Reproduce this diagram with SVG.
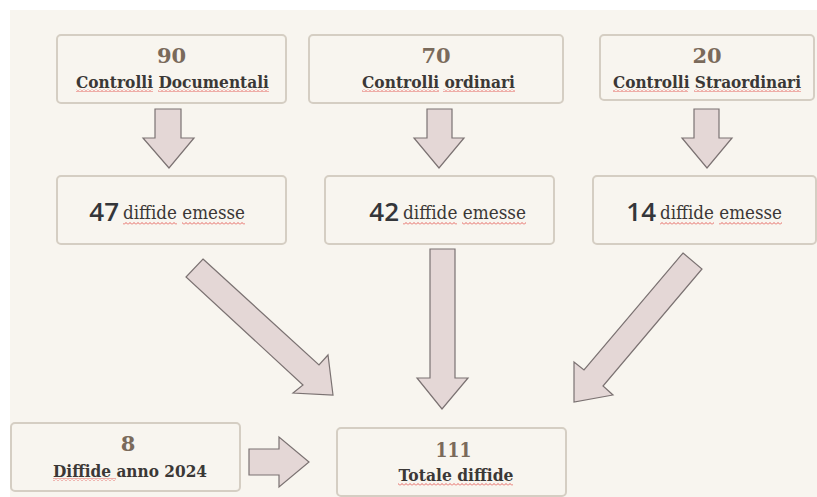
<svg xmlns="http://www.w3.org/2000/svg" width="817" height="497" viewBox="0 0 817 497">
<defs>
<pattern id="sq" patternUnits="userSpaceOnUse" width="4" height="3"><path d="M0 2.5 L2 0.5 L4 2.5" fill="none" stroke="#e0403c" stroke-width="0.8"/></pattern>
</defs>
<style>
.box{fill:#f8f5ef;stroke:#d5cec3;stroke-width:2}
.arr{fill:#e4d7d6;stroke:#7b7272;stroke-width:1.2}
.num{font-family:"DejaVu Serif",serif;font-weight:bold;font-size:21px;fill:#7a6a5b;text-anchor:middle}
.lbl{font-family:"DejaVu Serif",serif;font-weight:bold;font-size:17px;fill:#3b3836;text-anchor:middle}
.big{font-family:"Open Sans",sans-serif;font-weight:600;font-size:26px;fill:#34363a;text-anchor:end}
.em{font-family:"DejaVu Serif",serif;font-size:18px;fill:#3b3836}
.sq{fill:url(#sq)}
</style>
<rect width="817" height="497" fill="#ffffff"/>
<rect x="10" y="10" width="807" height="487" fill="#f8f5ef"/>

<g id="connectors">
<polygon class="arr" points="155,109 181,109 181,138 194,138 169,168 143,138 155,138"/>
<polygon class="arr" points="427,109 452,109 452,138 464,138 439,168 414,138 427,138"/>
<polygon class="arr" points="694,109 719,109 719,138 732,138 707,168 682,138 694,138"/>
<polygon class="arr" points="430,249 455,249 455,378 468,378 442,409 417,378 430,378"/>
<polygon class="arr" points="203,259 319,365 328,355 333,395 293,393 303,385 186,277"/>
<polygon class="arr" points="683,253 702,269 603,386 613,395 574,402 574,362 584,370"/>
<polygon class="arr" points="249,449 279,449 279,437 309,462 279,487 279,475 249,475"/>
</g>

<g id="n-documentali">
<rect class="box" x="57" y="35" width="229" height="68" rx="4"/>
<text class="num" x="171.5" y="63">90</text>
<text class="lbl" x="172.5" y="88" textLength="193" lengthAdjust="spacingAndGlyphs">Controlli Documentali</text>
<rect class="sq" x="76" y="89" width="77" height="3"/><rect class="sq" x="158" y="89" width="111" height="3"/>
</g>
<g id="n-ordinari">
<rect class="box" x="309" y="35" width="254" height="68" rx="4"/>
<text class="num" x="436" y="63">70</text>
<text class="lbl" x="438.5" y="88" textLength="153" lengthAdjust="spacingAndGlyphs">Controlli ordinari</text>
<rect class="sq" x="362" y="89" width="77" height="3"/><rect class="sq" x="443" y="89" width="72" height="3"/>
</g>
<g id="n-straordinari">
<rect class="box" x="600" y="35" width="214" height="65" rx="4"/>
<text class="num" x="707" y="63">20</text>
<text class="lbl" x="707" y="88" style="font-size:16px" textLength="188" lengthAdjust="spacingAndGlyphs">Controlli Straordinari</text>
<rect class="sq" x="613" y="89" width="75" height="3"/><rect class="sq" x="694" y="89" width="107" height="3"/>
</g>

<g id="n-diffide47">
<rect class="box" x="57" y="176" width="229" height="68" rx="4"/>
<text class="big" x="119" y="221">47</text>
<text class="em" x="123" y="219" textLength="122" lengthAdjust="spacingAndGlyphs">diffide emesse</text>
<rect class="sq" x="123" y="222" width="54" height="3"/><rect class="sq" x="182" y="222" width="63" height="3"/>
</g>
<g id="n-diffide42">
<rect class="box" x="325" y="176" width="229" height="68" rx="4"/>
<text class="big" x="399" y="221">42</text>
<text class="em" x="403" y="219" textLength="123" lengthAdjust="spacingAndGlyphs">diffide emesse</text>
<rect class="sq" x="403" y="222" width="54" height="3"/><rect class="sq" x="462" y="222" width="64" height="3"/>
</g>
<g id="n-diffide14">
<rect class="box" x="593" y="176" width="223" height="68" rx="4"/>
<text class="big" x="656" y="221">14</text>
<text class="em" x="660" y="219" textLength="122" lengthAdjust="spacingAndGlyphs">diffide emesse</text>
<rect class="sq" x="660" y="222" width="54" height="3"/><rect class="sq" x="719" y="222" width="63" height="3"/>
</g>

<g id="n-anno2024">
<rect class="box" x="11" y="423" width="229" height="68" rx="4"/>
<text class="num" x="128" y="451">8</text>
<text class="lbl" x="130" y="477" textLength="154" lengthAdjust="spacingAndGlyphs">Diffide anno 2024</text>
<rect class="sq" x="53" y="478" width="63" height="3"/>
</g>
<g id="n-totale">
<rect class="box" x="337" y="428" width="229" height="68" rx="4"/>
<text class="num" x="453.5" y="457" textLength="36" lengthAdjust="spacingAndGlyphs">111</text>
<text class="lbl" x="456" y="481" textLength="115" lengthAdjust="spacingAndGlyphs">Totale diffide</text>
<rect class="sq" x="398" y="483" width="115" height="3"/>
</g>
</svg>
